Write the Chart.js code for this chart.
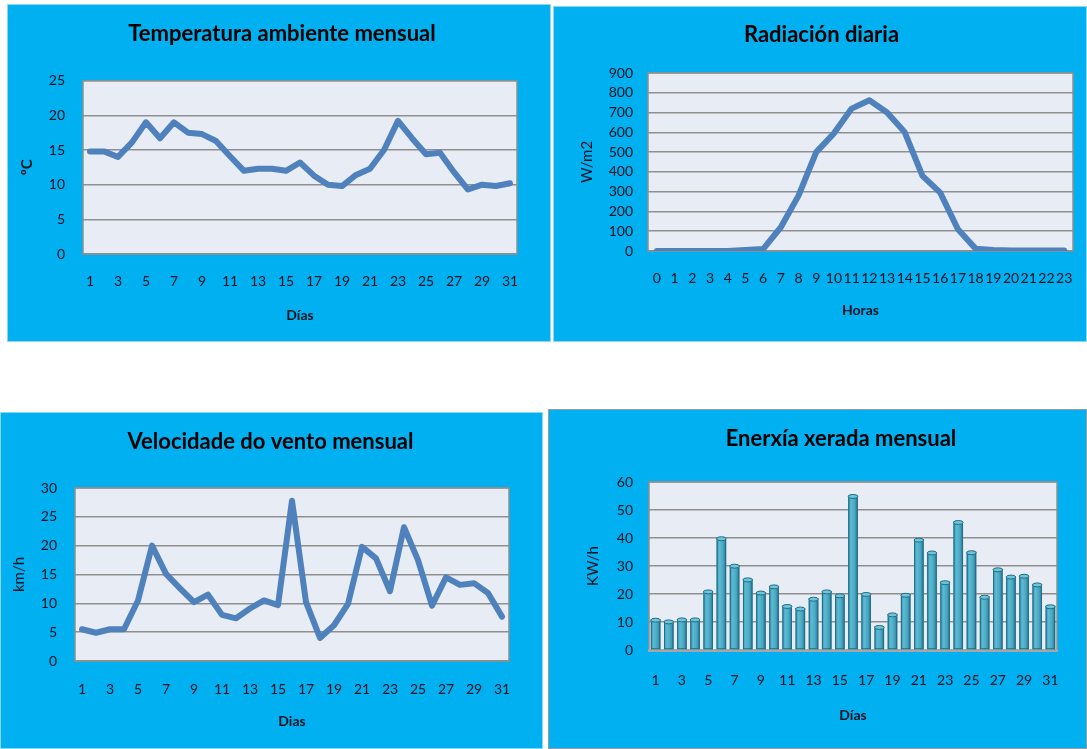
<!DOCTYPE html>
<html><head><meta charset="utf-8">
<script src="https://cdn.jsdelivr.net/npm/chart.js@4.4.1/dist/chart.umd.min.js"></script>
<style>
html,body{margin:0;padding:0;background:#fff;width:1087px;height:749px;overflow:hidden;position:relative;}
.panel{position:absolute;background:#00B0F0;box-sizing:border-box;}
canvas{position:absolute;}
</style></head><body>
<div class="panel" style="left:7px;top:4px;width:544px;height:338px;border:1px solid #8fd6f2"></div>
<div class="panel" style="left:553px;top:6px;width:534px;height:336px;border:1px solid #8fd6f2"></div>
<div class="panel" style="left:0px;top:412px;width:543px;height:337px;border:1px solid #8fd6f2"></div>
<div class="panel" style="left:548px;top:409px;width:539px;height:340px;border:1px solid #9a9a9a"></div>
<canvas id="c1" width="540" height="338" style="left:12px;top:4px"></canvas>
<canvas id="c2" width="507" height="336" style="left:568px;top:6px"></canvas>
<canvas id="c3" width="541" height="337" style="left:0px;top:412px"></canvas>
<canvas id="c4" width="514" height="340" style="left:584px;top:409px"></canvas>
<script>
// ---- data ----
const days = [1,2,3,4,5,6,7,8,9,10,11,12,13,14,15,16,17,18,19,20,21,22,23,24,25,26,27,28,29,30,31];
const hours = [0,1,2,3,4,5,6,7,8,9,10,11,12,13,14,15,16,17,18,19,20,21,22,23];
const temperature = [14.8,14.8,14.0,16.1,19.0,16.7,19.0,17.5,17.3,16.3,14.1,12.0,12.3,12.3,12.0,13.2,11.3,10.0,9.8,11.4,12.3,15.0,19.2,16.7,14.4,14.6,11.8,9.3,10.0,9.8,10.2];
const radiation = [0,0,0,0,0,5,10,120,280,500,595,720,762,700,600,380,295,110,12,5,3,3,2,2];
const wind = [5.5,4.9,5.5,5.5,10.5,20.0,15.1,12.6,10.2,11.5,8.0,7.4,9.1,10.5,9.7,27.8,10.2,4.0,6.2,9.9,19.8,17.8,12.1,23.2,17.5,9.6,14.5,13.2,13.5,11.8,7.7];
const energy = [11.0,10.4,11.1,11.1,21.1,40.1,30.3,25.4,20.7,22.9,15.9,15.0,18.5,21.1,19.7,55.2,20.2,8.4,12.9,19.9,39.6,35.0,24.4,45.9,35.1,19.2,29.0,26.4,26.7,23.6,15.8];
const titles = ['Temperatura ambiente mensual','Radiación diaria','Velocidade do vento mensual','Enerxía xerada mensual'];
const xTitles = ['Días','Horas','Dias','Días'];
const yTitles = ['ºC','W/m2','km/h','KW/h'];

const FONT = "Lato, 'Open Sans', sans-serif";
const TXT = '#0a1220';

const plotFrame = {
  id: 'plotFrame',
  beforeDraw(chart) {
    const {ctx, chartArea: a} = chart;
    ctx.save();
    ctx.fillStyle = '#E8ECF4';
    ctx.fillRect(a.left, a.top, a.right - a.left, a.bottom - a.top);
    ctx.restore();
  },
  beforeDatasetsDraw(chart) {
    const {ctx, chartArea: a} = chart;
    ctx.save();
    ctx.strokeStyle = '#8f8f8f';
    ctx.lineWidth = 1.5;
    ctx.strokeRect(a.left, a.top, a.right - a.left, a.bottom - a.top);
    if (chart.config.type === 'bar') {
      ctx.fillStyle = '#a6a6a6';
      ctx.fillRect(a.left - 1, a.bottom - 1, a.right - a.left + 2, 3);
    }
    ctx.restore();
  }
};

// cylinder-like shading drawn from each bar element
const barShade = {
  id: 'barShade',
  afterDatasetsDraw(chart) {
    if (chart.config.type !== 'bar') return;
    const {ctx} = chart;
    chart.getDatasetMeta(0).data.forEach(el => {
      const w = el.width, x0 = el.x - w / 2, top = el.y, bot = el.base;
      ctx.save();
      const g = ctx.createLinearGradient(x0, 0, x0 + w, 0);
      g.addColorStop(0, '#3A94AE');
      g.addColorStop(0.3, '#5BBAD4');
      g.addColorStop(0.65, '#4AA9C4');
      g.addColorStop(1, '#2B7890');
      ctx.fillStyle = g;
      ctx.fillRect(x0, top, w, bot - top);
      ctx.strokeStyle = '#256C82';
      ctx.lineWidth = 1;
      ctx.strokeRect(x0 + 0.5, top + 0.5, w - 1, bot - top - 1);
      ctx.beginPath();
      ctx.ellipse(el.x, top + 1, w / 2, 2, 0, 0, Math.PI * 2);
      ctx.fillStyle = '#6CC6DD';
      ctx.fill();
      ctx.stroke();
      ctx.restore();
    });
  }
};

function makeChart(id, o) {
  const everyOther = o.everyOther;
  return new Chart(document.getElementById(id), {
    type: o.type,
    data: {
      labels: o.labels,
      datasets: [o.type === 'line' ? {
        data: o.data, borderColor: '#4F81BD', borderWidth: 6, pointRadius: 0,
        tension: 0, borderJoinStyle: 'round', borderCapStyle: 'round'
      } : {
        data: o.data, backgroundColor: '#4BACC6', borderColor: '#2B7A91', borderWidth: 0,
        barPercentage: 0.72, categoryPercentage: 1
      }]
    },
    options: {
      responsive: false, animation: false,
      layout: {padding: 0},
      plugins: {
        legend: {display: false}, tooltip: {enabled: false},
        title: {display: true, text: o.title, color: '#000',
          font: {family: FONT, size: 22, weight: 'bold', lineHeight: 1.2},
          padding: {top: o.tPadTop, bottom: o.tPadBottom}}
      },
      scales: {
        x: {
          offset: true,
          grid: {display: true, drawOnChartArea: false, drawTicks: true, tickLength: o.xTick, color: 'transparent', tickColor: 'transparent'},
          border: {display: false},
          ticks: {padding: 0, autoSkip: false, maxRotation: 0, minRotation: 0, color: TXT,
            font: {family: FONT, size: 14},
            callback: function(v, i) { return (everyOther && i % 2 === 1) ? '' : this.getLabelForValue(v); }},
          title: {display: true, text: o.xTitle, color: TXT, font: {family: FONT, size: 14, weight: 'bold', lineHeight: 1.2},
            padding: {top: 0, bottom: o.xTitlePad}},
          afterFit: s => { s.height = o.xHeight; }
        },
        y: {
          min: 0, max: o.yMax,
          grid: {color: '#8f8f8f', lineWidth: 1.5, drawTicks: true, tickLength: o.yTick, tickColor: 'transparent'},
          border: {display: false},
          ticks: {stepSize: o.yStep, autoSkip: false, padding: 0, color: TXT, font: {family: FONT, size: 14}},
          title: {display: true, text: o.yTitle, color: TXT, font: {family: FONT, size: 15, weight: o.yBold ? 'bold' : 'normal', lineHeight: 1.2},
            padding: {top: o.yTitlePad, bottom: 0}},
          afterFit: s => { s.width = o.yWidth; }
        },
        // empty right-hand spacer so the title stays centred on the whole panel
        spacer: {
          type: 'linear', position: 'right', display: true,
          grid: {display: false}, border: {display: false}, ticks: {display: false},
          afterFit: s => { s.width = o.padRight; }
        }
      }
    },
    plugins: [plotFrame, barShade]
  });
}

makeChart('c1', {type: 'line', labels: days, data: temperature, everyOther: true, yMax: 25, yStep: 5,
  title: titles[0], xTitle: xTitles[0], yTitle: yTitles[0], yBold: true,
  padRight: 35, tPadTop: 16.3, tPadBottom: 34, yWidth: 71, yTitlePad: 5.8, yTick: 18,
  xHeight: 88, xTitlePad: 18.6, xTick: 19.5});
makeChart('c2', {type: 'line', labels: hours, data: radiation, everyOther: false, yMax: 900, yStep: 100,
  title: titles[1], xTitle: xTitles[1], yTitle: yTitles[1],
  padRight: 2, tPadTop: 15.8, tPadBottom: 24.8, yWidth: 80, yTitlePad: 10.1, yTick: 15,
  xHeight: 91, xTitlePad: 23.6, xTick: 19.2});
makeChart('c3', {type: 'line', labels: days, data: wind, everyOther: true, yMax: 30, yStep: 5,
  title: titles[2], xTitle: xTitles[2], yTitle: yTitles[2],
  padRight: 32, tPadTop: 16.5, tPadBottom: 33.1, yWidth: 75, yTitlePad: 10.6, yTick: 18,
  xHeight: 88, xTitlePad: 19.3, xTick: 20.2});
makeChart('c4', {type: 'bar', labels: days, data: energy, everyOther: true, yMax: 60, yStep: 10,
  title: titles[3], xTitle: xTitles[3], yTitle: yTitles[3],
  padRight: 41, tPadTop: 16.4, tPadBottom: 30.2, yWidth: 65, yTitlePad: 0, yTick: 16,
  xHeight: 99, xTitlePad: 25.2, xTick: 22.2});
</script>
</body></html>
